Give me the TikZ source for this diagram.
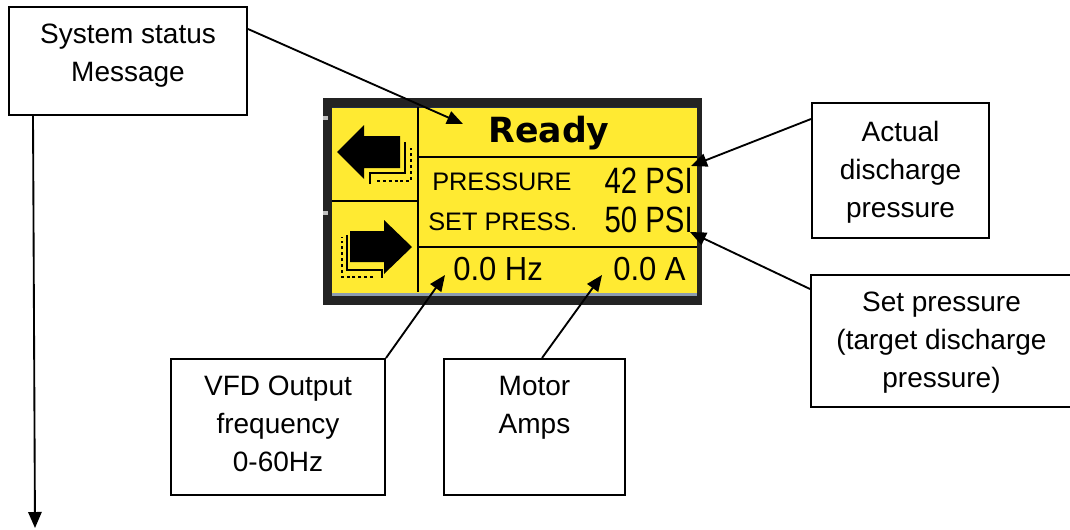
\documentclass[tikz,border=0pt]{standalone}
\usepackage{fontspec}
\setmainfont{Liberation Sans}
\newfontfamily\lcdbold{DejaVu Sans}
\newfontfamily\lcdnarrow[FakeStretch=0.8]{Liberation Sans}
\newfontfamily\lcdwide[FakeStretch=0.93]{Liberation Sans}
\usetikzlibrary{arrows.meta,positioning,calc}

\definecolor{lcdyellow}{RGB}{255,234,50}
\definecolor{lcdframe}{RGB}{35,35,35}
\definecolor{lcdedge}{RGB}{140,156,176}
\definecolor{lcdnavy}{RGB}{30,45,75}

\tikzset{
  callout/.style={draw, line width=1.5pt, inner sep=0pt},
  callouttext/.style={anchor=north, align=center, inner sep=0pt},
  pointer/.style={line width=1.4pt, -{Triangle[length=12pt,width=10pt]}},
  lcdline/.style={line width=2.2pt},
  lcddots/.style={line width=2.2pt, dash pattern=on 2.2pt off 2.2pt},
  lcdlabel/.style={anchor=base west, inner sep=0pt, font=\fontsize{19}{19}\selectfont},
  lcdvalue/.style={anchor=base east, inner sep=0pt, font=\lcdnarrow\fontsize{27.5}{27.5}\selectfont},
  lcdreading/.style={anchor=base west, inner sep=0pt, font=\lcdwide\fontsize{25}{25}\selectfont},
}

\begin{document}
\begin{tikzpicture}[x=0.75pt, y=-0.75pt, every node/.style={font=\fontsize{21}{28.5}\selectfont}]
  \useasboundingbox (0,0) rectangle (1070,529);

  % display
  \fill[lcdframe] (323,98) rectangle (702,305);
  \fill[lcdyellow] (332,107) rectangle (697,296);
  \draw[lcdnavy, line width=1pt] (332,107.5) -- (697,107.5);
  \fill[lcdedge] (332,293) rectangle (697,296);
  \foreach \y in {116,211}
    \fill[gray!50] (323,\y) rectangle (328,\y+4);
  \draw[lcdline] (418,107) -- (418,292);
  \draw[lcdline] (332,201) -- (418,201);
  \foreach \y in {157,247}
    \draw[lcdline] (418,\y) -- (697,\y);

  % key arrows
  \fill (337,152) -- (364,125) -- (364,136) -- (400,136) -- (400,168) -- (364,168) -- (364,179) -- cycle;
  \draw[lcdline] (370,184) -- (370,173) -- (405,173) -- (405,142);
  \draw[lcddots] (377,181) -- (411,181) -- (411,148);
  \fill (412,247) -- (384,220) -- (384,231) -- (350,231) -- (350,262) -- (384,262) -- (384,274) -- cycle;
  \draw[lcdline] (382,278) -- (382,270) -- (347,270) -- (347,235);
  \draw[lcddots] (373,277) -- (342,277) -- (342,237);

  % display text
  \node[anchor=base, inner sep=0pt, font=\lcdbold\bfseries\fontsize{26}{26}\selectfont] (ready) at (549,142) {Ready};
  \node[lcdlabel] (pressure) at (432,190) {PRESSURE};
  \node[lcdvalue] (pressval) at (693,193) {42 PSI};
  \node[lcdlabel] (setpress) at (428,230) {SET PRESS.};
  \node[lcdvalue] (setval) at (693,232) {50 PSI};
  \node[lcdreading] (hz) at (453,280) {0.0 Hz};
  \node[lcdreading] (amps) at (613,280) {0.0 A};

  % arrow ends
  \coordinate (readytip) at (463,124);
  \coordinate (psitip) at (691,166);
  \coordinate (settip) at (690,232);
  \coordinate (hztip) at (445,275);
  \coordinate (amptip) at (602,275);
  \coordinate (statusend) at (35,528);

  % callouts
  \node[callout, minimum width=178.5pt, minimum height=81pt] (status) at (128,61) {};
  \node[callouttext, below=13.5pt of status.north] (status-text) {System status\\Message};
  \node[callout, minimum width=132.75pt, minimum height=101.25pt] (actual) at (900.5,170.5) {};
  \node[callouttext, below=14.5pt of actual.north] (actual-text) {Actual\\discharge\\pressure};
  \node[callout, minimum width=195.75pt, minimum height=99pt] (setp) at (941.5,341) {};
  \node[callouttext, below=13.5pt of setp.north] (setp-text) {Set pressure\\(target discharge\\pressure)};
  \node[callout, minimum width=160.5pt, minimum height=102pt] (vfd) at (278,427) {};
  \node[callouttext, below=13.5pt of vfd.north] (vfd-text) {VFD Output\\frequency\\0-60Hz};
  \node[callout, minimum width=135.75pt, minimum height=102pt] (motor) at (534.5,427) {};
  \node[callouttext, below=13.5pt of motor.north] (motor-text) {Motor\\Amps};

  % pointers
  \draw[pointer] ($(status.north east)+(0,23)$) -- (readytip);
  \draw[pointer] ($(status.south west)+(25,0)$) -- (statusend);
  \draw[pointer] ($(actual.north west)+(0,17)$) -- (psitip);
  \draw[pointer] ($(setp.north west)+(0,15)$) -- (settip);
  \draw[pointer] (vfd.north east) -- (hztip);
  \draw[pointer] ($(motor.north)+(7.5,0)$) -- (amptip);
\end{tikzpicture}
\end{document}
